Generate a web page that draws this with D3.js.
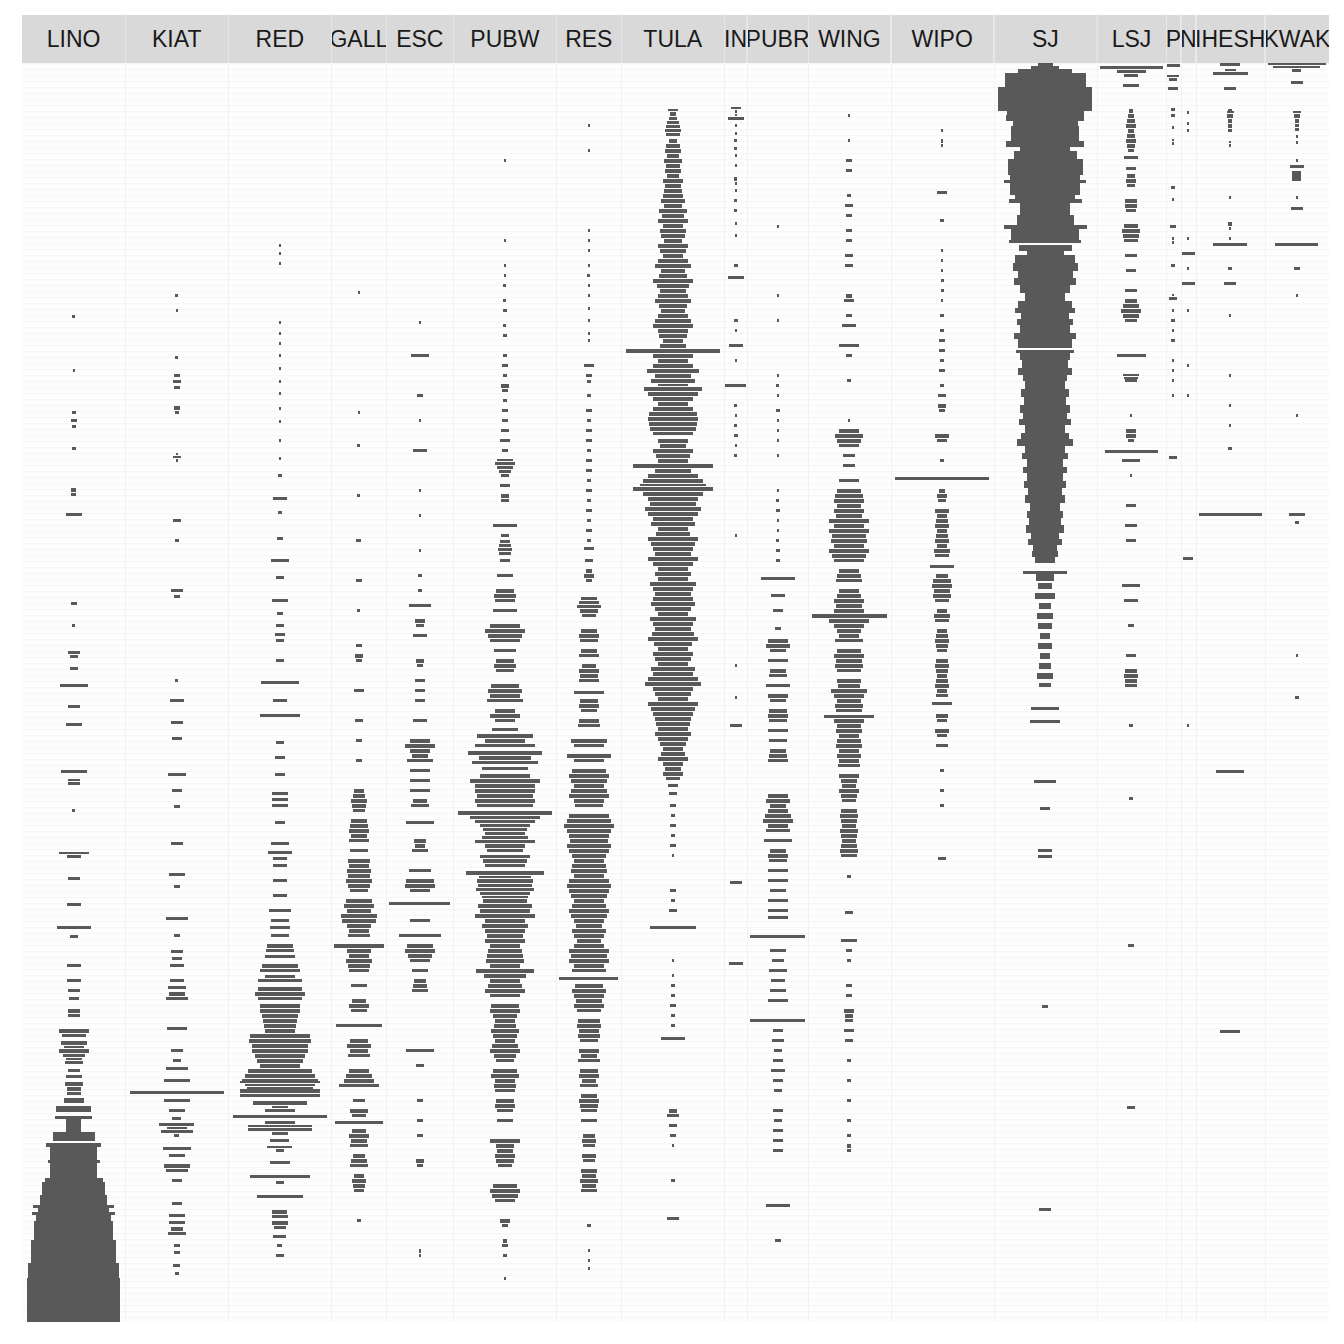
<!DOCTYPE html>
<html>
<head>
<meta charset="utf-8">
<script src="https://cdn.jsdelivr.net/npm/d3@7"></script>
<style>body{margin:0;background:#fff}</style>
</head>
<body>
<svg width="1344" height="1344"></svg>
<script>
// facet order (left to right)
var sites = ["LINO","KIAT","RED","GALL","ESC","PUBW","RES","TULA","IN","PUBR","WING","WIPO","SJ","LSJ","P","N","IHESH","KWAK"];

// each entry: [level, count] for one sample, or [fromLevel, toLevel, count] for a run of samples
var LINO = [[253,3],[307,2],[349,4],[357,6],[363,4],[385,4],[426,5],[431,5],[451,16],[540,6],[562,3],[589,12],[593,8],[605,8],[622,28],[643,12],[661,16],[708,26],[717,12],[720,12],[747,3],[790,30],[793,14],[815,12],[841,14],[864,34],[873,8],[902,14],[917,14],[927,12],[935,10],[947,12],[952,12],[967,30],[972,24],[979,26],[984,20],[987,30],[992,22],[996,16],[999,18],[1007,12],[1013,16],[1020,18],[1025,14],[1030,14],
  [1035,1040,20],[1043,1049,35],[1053,1056,37],[1056,1069,15],[1069,1078,42],[1080,1084,55],[1084,1115,47],[1097,1100,52],[1115,1119,58],[1119,1132,63],[1132,1142,67],[1142,1145,81],[1145,1149,72],[1149,1152,83],[1152,1158,75],[1158,1177,80],[1177,1200,86],[1200,1215,91],[1215,1259,94]];

var KIAT = [[232,3],[247,2],[294,3],[312,6],[318,8],[324,6],[344,6],[349,4],[391,2],[394,8],[397,2],[457,8],[477,4],[527,12],[533,6],[617,3],[637,14],[659,12],[675,10],[711,18],[727,10],[743,6],[780,12],[811,16],[823,6],[855,22],[872,6],[888,12],[895,10],[902,14],[917,14],[924,18],[930,16],[935,22],[965,20],[987,12],[997,8],[1005,22],[1017,26],[1029,94],[1037,26],[1047,16],[1055,9],[1061,35],[1065,20],[1068,32],[1072,5],[1085,28],[1092,16],[1102,26],[1107,22],[1117,10],[1140,10],[1152,16],[1159,16],[1165,12],[1170,18],[1182,6],[1189,6],[1202,7],[1210,4]];

var RED = [[182,2],[190,2],[200,2],[259,2],[270,2],[280,2],[292,2],[305,2],[318,2],[330,2],[345,2],[358,2],[377,2],[395,2],[412,4],[435,14],[449,4],[475,6],[497,18],[514,8],[537,16],[550,6],[562,8],[571,10],[577,8],[597,8],[619,38],[637,14],[652,40],[679,8],[694,10],[711,10],[730,16],[736,16],[742,16],[759,10],[780,18],[789,24],[795,14],[802,14],[817,14],[832,14],[847,22],[857,18],[864,20],[872,18],[882,26],[887,28],[893,30],[902,36],[907,40],[913,30],[917,44],[925,44],[930,50],[935,44],[942,40],[947,40],[952,36],[957,34],[962,32],[967,30],[972,60],[977,62],[982,56],[987,56],[992,50],[997,46],[1002,40],[1007,64],[1012,70],[1017,76],[1019,80],[1022,70],[1025,66],[1027,80],[1032,80],[1039,54],[1044,16],[1047,30],[1053,94],[1059,30],[1063,64],[1066,64],[1070,16],[1077,19],[1084,25],[1087,8],[1099,20],[1113,60],[1119,8],[1133,46],[1148,15],[1153,16],[1159,16],[1164,12],[1173,13],[1182,5],[1192,8]];

var GALL = [[229,2],[349,2],[382,3],[432,3],[477,5],[517,6],[547,3],[582,6],[592,8],[597,6],[627,10],[657,8],[677,6],[697,6],[727,10],[732,12],[737,16],[742,14],[747,12],[757,16],[762,18],[767,20],[772,16],[777,20],[787,18],[797,22],[802,20],[807,24],[812,22],[817,26],[822,22],[827,18],[837,26],[842,30],[847,24],[852,36],[857,34],[862,24],[867,20],[872,22],[882,50],[887,24],[892,20],[897,26],[902,22],[907,20],[922,16],[937,14],[942,20],[947,16],[962,46],[977,18],[982,24],[987,18],[992,22],[1007,20],[1012,26],[1017,30],[1022,40],[1037,12],[1047,18],[1052,14],[1059,48],[1067,14],[1072,20],[1077,16],[1082,18],[1092,12],[1097,16],[1102,18],[1112,10],[1117,14],[1122,12],[1127,10],[1157,4]];

var ESC = [[259,2],[292,18],[332,6],[357,2],[387,14],[427,2],[452,2],[487,2],[512,4],[527,4],[542,22],[557,10],[562,8],[572,14],[597,8],[602,6],[617,10],[627,10],[637,10],[657,14],[677,20],[682,30],[687,20],[692,16],[697,26],[707,20],[717,20],[727,20],[737,14],[742,18],[759,28],[777,12],[782,10],[787,16],[807,22],[817,28],[822,30],[827,20],[840,61],[857,20],[872,42],[882,26],[887,30],[892,24],[897,20],[907,16],[917,12],[922,14],[927,16],[987,28],[1002,8],[1037,6],[1057,6],[1072,6],[1097,8],[1102,6],[1187,2],[1192,2]];

var PUBW = [[97,2],[177,2],[202,2],[212,2],[222,3],[237,3],[247,4],[262,3],[272,4],[292,4],[302,6],[312,4],[322,8],[327,6],[337,4],[347,6],[357,6],[367,8],[377,10],[387,6],[397,16],[400,20],[404,16],[408,12],[412,8],[422,10],[432,8],[437,8],[462,24],[472,8],[478,10],[482,12],[486,14],[490,12],[497,10],[512,16],[527,18],[532,22],[537,20],[547,24],[562,30],[567,40],[572,34],[577,30],[587,22],[597,18],[602,22],[607,18],[622,28],[627,34],[632,30],[637,36],[647,20],[652,30],[657,20],[666,26],[672,56],[677,40],[682,60],[689,74],[694,52],[699,66],[705,46],[712,50],[717,70],[722,60],[727,60],[732,56],[737,60],[742,56],[749,94],[754,70],[758,60],[762,50],[766,44],[770,40],[774,46],[778,60],[782,40],[787,36],[793,50],[797,44],[802,40],[809,78],[814,52],[817,56],[822,54],[826,58],[830,50],[834,46],[837,44],[842,54],[847,50],[852,60],[857,40],[862,46],[867,40],[872,36],[877,40],[882,30],[887,34],[892,36],[897,38],[902,30],[907,58],[912,42],[917,30],[922,34],[927,40],[932,30],[942,28],[947,30],[952,24],[957,20],[962,22],[967,28],[972,24],[977,20],[982,26],[987,30],[992,22],[997,18],[1007,24],[1012,28],[1017,20],[1022,22],[1027,20],[1037,18],[1042,20],[1047,16],[1057,16],[1077,30],[1082,18],[1087,16],[1092,20],[1097,18],[1102,14],[1122,24],[1127,30],[1132,26],[1137,20],[1157,10],[1162,6],[1177,4],[1182,6],[1192,4],[1215,2]];

var RES = [[62,2],[87,2],[167,2],[177,2],[187,2],[202,2],[212,3],[222,2],[232,2],[245,2],[257,2],[270,2],[277,2],[302,10],[312,6],[318,4],[332,4],[347,6],[357,4],[367,6],[377,6],[387,4],[397,6],[407,6],[417,4],[427,6],[437,4],[447,6],[457,4],[467,6],[477,4],[485,10],[497,8],[507,6],[512,10],[517,6],[535,16],[539,20],[543,24],[547,18],[552,14],[567,16],[572,20],[577,18],[587,16],[592,20],[602,14],[607,20],[612,18],[617,20],[629,30],[637,18],[642,20],[647,16],[657,20],[662,22],[677,36],[682,30],[692,44],[697,30],[707,34],[712,40],[717,36],[722,30],[727,36],[732,40],[737,30],[742,28],[752,40],[757,44],[762,50],[767,44],[772,40],[777,38],[782,44],[787,40],[792,34],[797,30],[802,34],[807,36],[812,30],[817,40],[822,44],[827,40],[832,36],[837,30],[842,34],[847,40],[852,36],[857,30],[862,26],[867,34],[872,30],[877,24],[882,30],[887,40],[892,36],[897,40],[902,30],[907,34],[915,59],[922,28],[927,34],[932,30],[937,26],[942,30],[947,24],[957,22],[962,24],[967,20],[972,22],[977,18],[987,20],[992,16],[997,22],[1007,18],[1012,20],[1017,14],[1022,18],[1032,16],[1037,20],[1042,18],[1047,16],[1057,16],[1072,12],[1077,14],[1082,12],[1092,14],[1097,12],[1107,16],[1112,14],[1117,18],[1122,14],[1127,16],[1162,4],[1187,2],[1197,2],[1205,2]];

var TULA = [[47,10],[50,6],[55,8],[59,12],[63,14],[67,16],[71,14],[77,8],[82,14],[87,16],[92,12],[97,18],[102,14],[107,16],[112,12],[117,20],[122,16],[127,18],[132,20],[137,24],[142,18],[147,28],[152,22],[157,30],[162,20],[167,26],[172,24],[177,18],[182,30],[187,26],[192,20],[197,30],[202,36],[207,24],[212,28],[217,40],[222,32],[227,26],[232,30],[237,36],[242,28],[247,24],[252,30],[257,36],[262,40],[267,30],[272,28],[277,20],[282,26],[287,94],[292,40],[297,30],[302,40],[307,52],[312,36],[317,44],[322,30],[325,58],[330,50],[335,40],[340,30],[345,40],[350,48],[355,50],[360,48],[365,46],[370,40],[377,30],[382,26],[387,40],[392,34],[397,30],[402,80],[407,36],[412,50],[417,60],[422,66],[425,80],[430,60],[435,50],[440,46],[445,56],[450,50],[455,40],[460,44],[465,30],[470,34],[475,50],[480,44],[485,40],[490,36],[495,50],[500,40],[505,30],[510,36],[515,30],[520,46],[525,40],[530,36],[535,40],[540,44],[545,36],[550,30],[555,46],[560,40],[565,36],[570,42],[575,50],[580,38],[585,30],[590,40],[595,36],[600,30],[605,44],[610,40],[615,50],[620,56],[625,40],[630,36],[635,30],[640,50],[645,44],[650,40],[655,36],[660,34],[665,30],[670,36],[675,30],[680,26],[685,20],[690,24],[695,30],[700,20],[705,16],[710,20],[715,14],[722,10],[730,8],[742,6],[752,4],[762,6],[772,4],[782,6],[792,2],[827,6],[837,4],[847,8],[864,46],[897,2],[912,2],[922,4],[932,4],[942,6],[952,4],[962,4],[975,24],[1047,8],[1052,12],[1062,8],[1072,6],[1082,2],[1117,4],[1155,12]];

var IN = [[45,10],[48,2],[52,2],[55,16],[62,2],[70,2],[77,3],[85,3],[92,2],[102,2],[115,3],[120,2],[127,2],[137,3],[147,3],[160,2],[172,2],[202,4],[214,16],[257,4],[267,2],[282,14],[297,2],[322,20.5],[342,3],[352,2],[362,3],[372,4],[382,2],[392,3],[472,2],[602,2],[634,2],[662,12],[819,12],[900,14]];

var PUBR = [[163,2],[232,2],[257,2],[312,2],[322,3],[332,2],[347,4],[357,2],[367,2],[377,2],[392,2],[427,2],[437,3],[447,4],[457,2],[467,2],[477,3],[487,4],[497,4],[515,34],[532,14],[547,10],[565,6],[577,20],[582,24],[587,16],[597,20],[607,16],[612,18],[622,24],[632,20],[637,16],[647,18],[652,20],[657,18],[667,20],[677,18],[687,16],[692,18],[697,20],[732,20],[737,24],[742,16],[747,20],[752,26],[757,30],[762,20],[767,24],[777,28],[787,16],[792,20],[797,18],[807,20],[817,20],[827,16],[837,20],[847,20],[854,20],[873,56],[887,16],[897,12],[907,18],[917,14],[927,16],[937,20],[957,56],[967,10],[977,12],[987,8],[997,10],[1007,14],[1017,10],[1027,8],[1047,10],[1057,8],[1067,10],[1077,10],[1087,10],[1142,24],[1177,6]];

var WING = [[52,2],[77,2],[97,6],[107,6],[132,4],[142,8],[152,6],[167,6],[177,6],[192,8],[202,8],[232,6],[237,10],[252,6],[262,14],[282,20],[292,6],[317,4],[357,2],[367,20],[372,28],[377,24],[382,20],[392,12],[402,12],[417,20],[427,24],[432,28],[437,30],[442,24],[447,30],[452,26],[457,40],[462,30],[467,40],[472,34],[477,36],[482,30],[487,40],[492,34],[497,30],[507,20],[512,24],[517,26],[527,20],[532,24],[537,30],[542,26],[547,30],[552,75],[557,40],[562,30],[567,24],[572,20],[577,28],[587,24],[592,30],[597,26],[602,28],[607,24],[617,24],[622,22],[627,36],[632,30],[637,24],[642,28],[647,26],[653,50],[657,30],[662,24],[667,26],[672,20],[677,24],[682,26],[687,20],[692,24],[697,20],[702,22],[712,20],[717,16],[722,14],[727,20],[732,16],[737,14],[747,16],[752,18],[757,16],[762,14],[767,18],[772,16],[777,14],[782,16],[787,18],[792,16],[813,4],[849,8],[877,16],[887,6],[897,4],[922,6],[932,6],[947,10],[952,8],[957,8],[967,10],[977,8],[997,4],[1017,4],[1037,4],[1057,4],[1072,4],[1082,4],[1087,4]];

var WIPO = [[67,2],[77,2],[82,2],[129,10],[157,4],[187,2],[197,2],[207,2],[217,3],[227,3],[237,2],[252,4],[267,4],[277,6],[287,6],[297,4],[307,6],[322,4],[332,8],[342,8],[347,6],[372,14],[377,10],[397,4],[415,94],[427,6],[432,10],[437,8],[447,14],[452,10],[457,12],[462,14],[467,10],[472,12],[477,14],[482,10],[487,16],[492,14],[503,24],[512,12],[517,18],[522,20],[527,16],[532,18],[537,14],[547,10],[552,16],[557,14],[567,10],[572,12],[577,14],[582,12],[587,10],[597,12],[602,14],[607,12],[612,10],[617,12],[622,14],[627,10],[632,12],[640,20],[652,12],[657,10],[667,14],[672,10],[682,12],[707,4],[727,4],[742,4],[795,8]];

var SJ = [[0,3,15],[3,6,28],[6,10,54],[10,24,81],[24,48,94],[48,52,77],[52,58,78],[58,63,65],[63,78,68],[78,84,78],[84,88,50],[88,96,63],[96,112,75],[112,117,70],[117,120,82],[120,132,70],[132,136,60],[136,140,73],[140,152,50],[152,162,57],[162,166,83],[166,177,68],[177,180,72],[182,188,53],[188,192,37],[192,200,60],[200,208,65],[208,215,55],[215,222,62],[222,230,50],[230,238,40],[238,245,54],[245,250,60],[250,256,48],[256,262,56],[262,270,50],[270,276,62],[276,285,54],[287,290,58],[290,297,50],[297,305,46],[305,312,54],[312,318,44],[318,326,40],[326,334,48],[334,342,42],[342,350,50],[350,356,44],[356,362,52],[362,370,40],[370,376,48],[376,383,56],[383,390,40],[390,396,46],[396,404,36],[404,410,44],[410,418,36],[418,425,42],[425,432,34],[432,440,40],[440,448,30],[448,455,36],[455,462,32],[462,470,38],[470,476,28],[476,482,34],[482,488,24],[488,494,26],[494,500,20],[508,511,44],[511,518,18],[520,526,14],[530,536,20],[540,546,12],[550,556,16],[560,566,14],[570,576,10],[580,586,14],[590,596,10],[600,606,12],[610,616,16],[620,624,12],[644,647,28],[657,660,30],[717,720,22],[744,747,10],[786,789,14],[792,795,14],[942,945,6],[1145,1148,12]];

var LSJ = [[4,63],[8,30],[12,14],[22,16],[47,4],[52,6],[57,8],[62,10],[67,6],[72,8],[77,10],[82,8],[87,6],[94,14],[105,10],[112,8],[117,10],[122,8],[137,12],[142,12],[147,10],[162,14],[167,18],[172,16],[177,14],[192,12],[207,10],[227,12],[237,12],[242,16],[247,20],[252,16],[257,12],[292,30],[312,16],[315,14],[317,12],[352,2],[367,10],[372,10],[377,6],[388,54],[397,18],[412,2],[442,10],[462,12],[477,10],[522,18],[537,14],[562,6],[592,10],[607,12],[612,14],[617,12],[622,12],[662,4],[735,4],[882,6],[1044,8]];

var P = [[2,13.4],[13,12],[16,8],[25,10],[46,4],[52,4],[64,2],[77,2],[80,2],[124,4],[136,2],[163,6],[175,2],[179,2],[202,4],[232,2],[235,8],[247,2],[257,4],[267,2],[277,4],[297,2],[307,2],[317,2],[332,2],[394,8]];

var N = [[49,2],[60,2],[67,2],[175,2],[190,13.6],[205,2],[220,13],[247,2],[302,2],[332,2],[495,10],[662,2]];

var IHESH = [[1,20],[7,11],[10,35],[25,12],[47,4],[49,7],[52,6],[57,4],[62,4],[67,4],[79,2],[82,2],[134,2],[160,4],[165,2],[175,2],[181,34],[205,4],[220,12],[252,2],[312,2],[342,2],[362,2],[385,4],[451,63],[708,28],[968,20]];

var KWAK = [[1,58.5],[4,47],[7,9],[19,12],[49,8],[52,6],[57,4],[62,4],[66,4],[73,1.5],[79,1.5],[97,2],[103,14],[108,118,9],[134,1.5],[145,12],[181,43],[205,6],[232,2],[352,2],[451,16],[459,4],[592,2],[634,4]];

var levelMax = 1259,
    step = 3;   // thickness of one sample

var data = {LINO: LINO, KIAT: KIAT, RED: RED, GALL: GALL, ESC: ESC, PUBW: PUBW, RES: RES, TULA: TULA, IN: IN, PUBR: PUBR,
  WING: WING, WIPO: WIPO, SJ: SJ, LSJ: LSJ, P: P, N: N, IHESH: IHESH, KWAK: KWAK};

// turn every entry into an interval; close samples grow towards the next one, keeping a thin gap
function toIntervals(rows) {
  var singles = rows.filter(function(e) { return e.length == 2; })
    .sort(function(a, b) { return a[0] - b[0]; });
  var out = rows.filter(function(e) { return e.length == 3; })
    .map(function(e) { return {top: e[0], bottom: e[1], v: e[2]}; });
  singles.forEach(function(e, i) {
    var next = singles[i + 1], bottom = e[0] + step / 2;
    if (next && next[0] - e[0] <= 5) bottom = next[0] - step / 2 - 1;
    out.push({top: e[0] - step / 2, bottom: Math.max(bottom, e[0] + step / 2 - 1), v: e[1]});
  });
  return out;
}

var svg = d3.select("svg"),
    margin = {top: 15, right: 15, bottom: 22, left: 22},
    stripH = 48,
    width = +svg.attr("width") - margin.left - margin.right,
    plotTop = margin.top + stripH,
    plotBottom = +svg.attr("height") - margin.bottom;

// free x space: each panel is as wide as its largest count (plus 5% each side)
var maxes = sites.map(function(s) { return d3.max(data[s], function(d) { return d[d.length - 1]; }); });
var k = width / d3.sum(maxes, function(m) { return m * 1.1; });

var x0 = margin.left, panels = [];
sites.forEach(function(s, i) {
  var w = maxes[i] * 1.1 * k;
  var sc = d3.scaleLinear().domain([-maxes[i] * 0.55, maxes[i] * 0.55]).range([x0, x0 + w]);
  panels.push({site: s, x: sc, left: x0, width: w, rows: toIntervals(data[s])});
  x0 += w;
});

var y = d3.scaleLinear().domain([0, levelMax]).range([plotTop, plotBottom]);

var defs = svg.append("defs");

// panels
var panel = svg.selectAll("g.panel")
  .data(panels)
  .enter().append("g")
    .attr("class", "panel");

panel.append("rect")
    .attr("x", function(d) { return d.left; })
    .attr("y", plotTop)
    .attr("width", function(d) { return d.width; })
    .attr("height", plotBottom - plotTop)
    .attr("fill", "#fdfdfd");

// faint grid lines
var gridLevels = d3.range(0, levelMax, 6);
panel.selectAll("line.grid")
  .data(function(d) { return gridLevels.map(function(l) { return {p: d, l: l}; }); })
  .enter().append("line")
    .attr("x1", function(d) { return d.p.left; })
    .attr("x2", function(d) { return d.p.left + d.p.width; })
    .attr("y1", function(d) { return Math.round(y(d.l)) + 0.5; })
    .attr("y2", function(d) { return Math.round(y(d.l)) + 0.5; })
    .attr("stroke", "#f6f6f6")
    .attr("stroke-width", 1);

// bars centred on each panel
panel.selectAll("rect.bar")
  .data(function(d) { return d.rows.map(function(r) { return {p: d, r: r}; }); })
  .enter().append("rect")
    .attr("class", "bar")
    .attr("shape-rendering", "crispEdges")
    .attr("fill", "#595959")
    .attr("x", function(d) { return d.p.x(-d.r.v / 2); })
    .attr("width", function(d) { return d.p.x(d.r.v / 2) - d.p.x(-d.r.v / 2); })
    .attr("y", function(d) { return y(d.r.top); })
    .attr("height", function(d) { return y(d.r.bottom) - y(d.r.top); });

// panel separators
svg.selectAll("line.sep")
  .data(panels.slice(1))
  .enter().append("line")
    .attr("x1", function(d) { return Math.round(d.left) + 0.5; })
    .attr("x2", function(d) { return Math.round(d.left) + 0.5; })
    .attr("y1", plotTop)
    .attr("y2", plotBottom)
    .attr("stroke", "#f2f2f2");

// strips with clipped labels
panels.forEach(function(d, i) {
  defs.append("clipPath").attr("id", "clip" + i)
    .append("rect")
      .attr("x", d.left).attr("y", margin.top)
      .attr("width", d.width).attr("height", stripH);
});

var strip = svg.selectAll("g.strip")
  .data(panels)
  .enter().append("g")
    .attr("class", "strip")
    .attr("clip-path", function(d, i) { return "url(#clip" + i + ")"; });

strip.append("rect")
    .attr("x", function(d) { return d.left; })
    .attr("y", margin.top)
    .attr("width", function(d) { return d.width; })
    .attr("height", stripH)
    .attr("fill", "#d9d9d9");

strip.append("text")
    .attr("x", function(d) { return d.left + d.width / 2; })
    .attr("y", margin.top + stripH / 2)
    .attr("dy", "0.36em")
    .attr("text-anchor", "middle")
    .attr("font-family", "Liberation Sans, Arial, sans-serif")
    .attr("font-size", 23)
    .attr("fill", "#1a1a1a")
    .text(function(d) { return d.site; });

svg.selectAll("line.ssep")
  .data(panels.slice(1))
  .enter().append("line")
    .attr("x1", function(d) { return Math.round(d.left) + 0.5; })
    .attr("x2", function(d) { return Math.round(d.left) + 0.5; })
    .attr("y1", margin.top)
    .attr("y2", plotTop)
    .attr("stroke", "#e6e6e6");
</script>
</body>
</html>
